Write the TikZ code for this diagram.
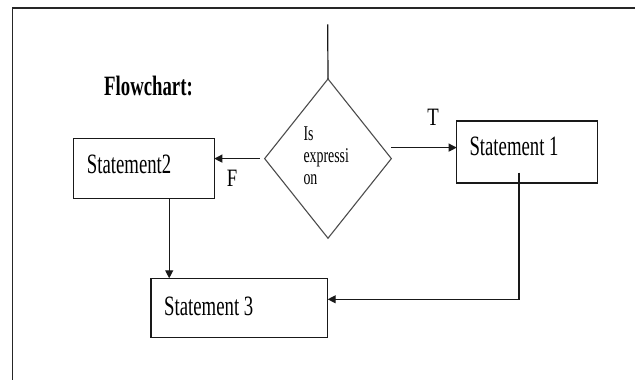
\documentclass[tikz,border=0pt]{standalone}
\usepackage{fontspec}
\setmainfont{Liberation Serif}
\newfontfamily\boxfont[FakeStretch=0.67]{Liberation Serif}
\newfontfamily\condfont[FakeStretch=0.66]{Liberation Serif}
\newfontfamily\tffont[FakeStretch=0.75]{Liberation Serif}
\usetikzlibrary{arrows.meta,shapes.geometric,calc}

\tikzset{
  line/.style={draw=black!90, line width=1.2pt},
  arr/.style={line, -{Triangle[length=8pt,width=8pt]}},
  box/.style={line, rectangle, inner sep=0pt, outer sep=0pt},
  stmt/.style={inner sep=0pt, anchor=base west, font=\boxfont\fontsize{28}{30}\selectfont},
  tf/.style={inner sep=0pt, anchor=base, font=\tffont\fontsize{25}{27}\selectfont},
}

\begin{document}
\begin{tikzpicture}[x=1pt, y=-1pt]
  \useasboundingbox (0,0) rectangle (635,380);

  % page frame (open on the right and bottom)
  \coordinate (fr1) at (635,7.7);
  \coordinate (fr2) at (12.3,7.7);
  \coordinate (fr3) at (12.3,380);
  \draw[draw=black!85, line width=1.6pt] (fr1) -- (fr2) -- (fr3);

  % heading
  \node[stmt, font=\boxfont\bfseries\fontsize{28}{30}\selectfont] (title) at (104,95) {Flowchart:};

  % decision
  \node[diamond, draw=black!70, line width=1.1pt, inner sep=0pt, outer sep=0pt,
        minimum width=126.7pt, minimum height=159.3pt] (dec) at (328,158.6) {};
  \node[inner sep=0pt, anchor=north west, align=left,
        font=\condfont\fontsize{21}{22}\selectfont] (qtext) at (303.3,126.5)
        {Is\\expressi\\on};

  % statements
  \node[box, minimum width=141pt, minimum height=60.4pt] (s2) at (143.8,168.5) {};
  \node[stmt] (s2t) at (86.7,173.3) {Statement2};

  \node[box, minimum width=140.6pt, minimum height=62pt] (s1) at (527,152) {};
  \node[stmt] (s1t) at (469.3,155) {Statement 1};

  \node[box, minimum width=176.7pt, minimum height=59pt] (s3) at (239.35,307.8) {};
  \node[stmt] (s3t) at (164,315) {Statement 3};

  % branch labels
  \node[tf] (tl) at (433,125) {T};
  \node[tf] (fl) at (232,186.7) {F};

  % connectors
  \coordinate (entry) at (327.7,24.3);
  \draw[line] (entry) -- (dec.north);

  \draw[arr] ([xshift=-5pt]dec.west) -- (s2.east |- dec.west);
  \coordinate (tstart) at ($(dec.east)+(0,-11)$);
  \draw[arr] (tstart) -- (s1.west |- tstart);

  \coordinate (s2out) at ($(s2.south)+(25.4,0)$);
  \draw[arr] (s2out) -- (s2out |- s3.north);

  \coordinate (s1out) at ($(s1.south)+(-8,-10.3)$);
  \draw[arr] (s1out) |- ($(s3.east)+(0,-8.5)$);
\end{tikzpicture}
\end{document}
